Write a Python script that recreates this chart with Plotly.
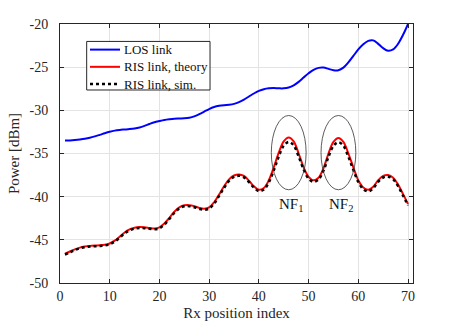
import plotly.graph_objects as go

rx_index = list(range(1, 71))

los_dbm = [
    -33.50, -33.48, -33.44, -33.38, -33.30, -33.18, -33.02, -32.84, -32.65, -32.48,
    -32.35, -32.27, -32.22, -32.17, -32.10, -31.98, -31.80, -31.58, -31.38, -31.24,
    -31.12, -31.04, -30.98, -30.95, -30.92, -30.85, -30.70, -30.45, -30.15, -29.85,
    -29.62, -29.48, -29.40, -29.35, -29.25, -29.05, -28.75, -28.40, -28.05, -27.75,
    -27.55, -27.45, -27.42, -27.45, -27.45, -27.35, -27.10, -26.70, -26.20, -25.70,
    -25.30, -25.08, -25.05, -25.20, -25.35, -25.35, -25.05, -24.45, -23.70, -22.95,
    -22.35, -21.95, -21.90, -22.30, -22.80, -23.10, -22.95, -22.30, -21.25, -20.00,
]

ris_theory_dbm = [
    -46.60, -46.35, -46.10, -45.90, -45.78, -45.70, -45.66, -45.64, -45.58, -45.42,
    -45.10, -44.65, -44.15, -43.80, -43.60, -43.52, -43.55, -43.62, -43.68, -43.55,
    -43.10, -42.45, -41.75, -41.25, -41.00, -40.98, -41.10, -41.30, -41.40, -41.25,
    -40.65, -39.75, -38.80, -38.00, -37.55, -37.42, -37.60, -38.15, -38.80, -39.20,
    -39.00, -38.10, -36.60, -34.90, -33.60, -33.15, -33.60, -35.00, -36.60, -37.70,
    -38.10, -37.80, -36.70, -35.00, -33.65, -33.20, -33.65, -35.00, -36.60, -38.10,
    -38.95, -39.20, -38.85, -38.10, -37.60, -37.50, -37.80, -38.60, -39.70, -40.85,
]

ris_sim_dbm = [
    -46.70, -46.45, -46.18, -45.98, -45.85, -45.78, -45.74, -45.72, -45.66, -45.50,
    -45.20, -44.75, -44.25, -43.90, -43.70, -43.62, -43.65, -43.72, -43.78, -43.66,
    -43.22, -42.57, -41.87, -41.37, -41.12, -41.10, -41.22, -41.42, -41.52, -41.38,
    -40.80, -39.90, -38.98, -38.18, -37.72, -37.58, -37.76, -38.30, -38.95, -39.35,
    -39.18, -38.35, -36.95, -35.35, -34.10, -33.65, -34.05, -35.35, -36.85, -37.90,
    -38.28, -38.00, -36.98, -35.40, -34.12, -33.70, -34.10, -35.38, -36.90, -38.30,
    -39.12, -39.38, -39.02, -38.28, -37.78, -37.68, -37.98, -38.78, -39.88, -41.02,
]

x_ticks = [0, 10, 20, 30, 40, 50, 60, 70]
y_ticks = [-50, -45, -40, -35, -30, -25, -20]

# near-field regions: (label, centre index)
nf_regions = [('NF<sub>1</sub>', 46), ('NF<sub>2</sub>', 56)]

FONT = 'Liberation Serif'
AXIS = '#262626'

series = [
    ('LOS link', los_dbm, dict(color='#0000ff', width=2, shape='spline')),
    ('RIS link, theory', ris_theory_dbm, dict(color='#ff0000', width=2, shape='spline')),
    ('RIS link, sim.', ris_sim_dbm, dict(color='#000000', width=2.5, dash='dot', shape='spline')),
]

fig = go.Figure()
for name, values, line in series:
    fig.add_trace(go.Scatter(x=rx_index, y=values, mode='lines', name=name, line=line, showlegend=False))

for label, cx in nf_regions:
    fig.add_shape(type='circle', xref='x', yref='y', x0=cx - 3.5, x1=cx + 3.5, y0=-39.2, y1=-30.6,
                  line=dict(color='#333333', width=0.8))
    fig.add_annotation(x=cx + 0.5, y=-39.7, text=label, showarrow=False, yanchor='top',
                       font=dict(family=FONT, size=15, color='#111111'))

# legend drawn by hand so the rows sit as tight as in the original
fig.add_shape(type='rect', xref='paper', yref='paper', x0=0.0756, x1=0.425, y0=0.7452, y1=0.9327,
              line=dict(color=AXIS, width=1), fillcolor='white', layer='above')
for i, (name, _, line) in enumerate(series):
    yy = 0.9011 - i * 0.0665
    fig.add_shape(type='line', xref='paper', yref='paper', x0=0.085, x1=0.170, y0=yy, y1=yy,
                  line=dict(color=line['color'], width=line['width'], dash=line.get('dash', 'solid')),
                  layer='above')
    fig.add_annotation(xref='paper', yref='paper', x=0.177, y=yy, text=name, showarrow=False,
                       xanchor='left', yanchor='middle', font=dict(family=FONT, size=13, color='#111111'))

axis_common = dict(showgrid=True, gridcolor='#e3e3e3', gridwidth=1, zeroline=False,
                   showline=True, linecolor=AXIS, linewidth=1, mirror='ticks',
                   ticks='inside', ticklen=4, tickcolor=AXIS,
                   tickfont=dict(family=FONT, size=14, color=AXIS))

fig.update_xaxes(range=[0, 71], tickvals=x_ticks, ticktext=[str(v) for v in x_ticks],
                 title=dict(text='Rx position index', font=dict(family=FONT, size=15, color=AXIS), standoff=4),
                 **axis_common)
fig.update_yaxes(range=[-50, -20], tickvals=y_ticks, ticktext=[str(v) for v in y_ticks],
                 ticklabelstandoff=8,
                 title=dict(text='Power [dBm]', font=dict(family=FONT, size=15, color=AXIS), standoff=6),
                 **axis_common)

fig.update_layout(
    width=457, height=330,
    margin=dict(l=60, r=44, t=24, b=43),
    paper_bgcolor='white', plot_bgcolor='white',
    font=dict(family=FONT),
)

fig.write_html('out.html', config={'displayModeBar': False},
               post_script="document.body.style.margin='0';")
